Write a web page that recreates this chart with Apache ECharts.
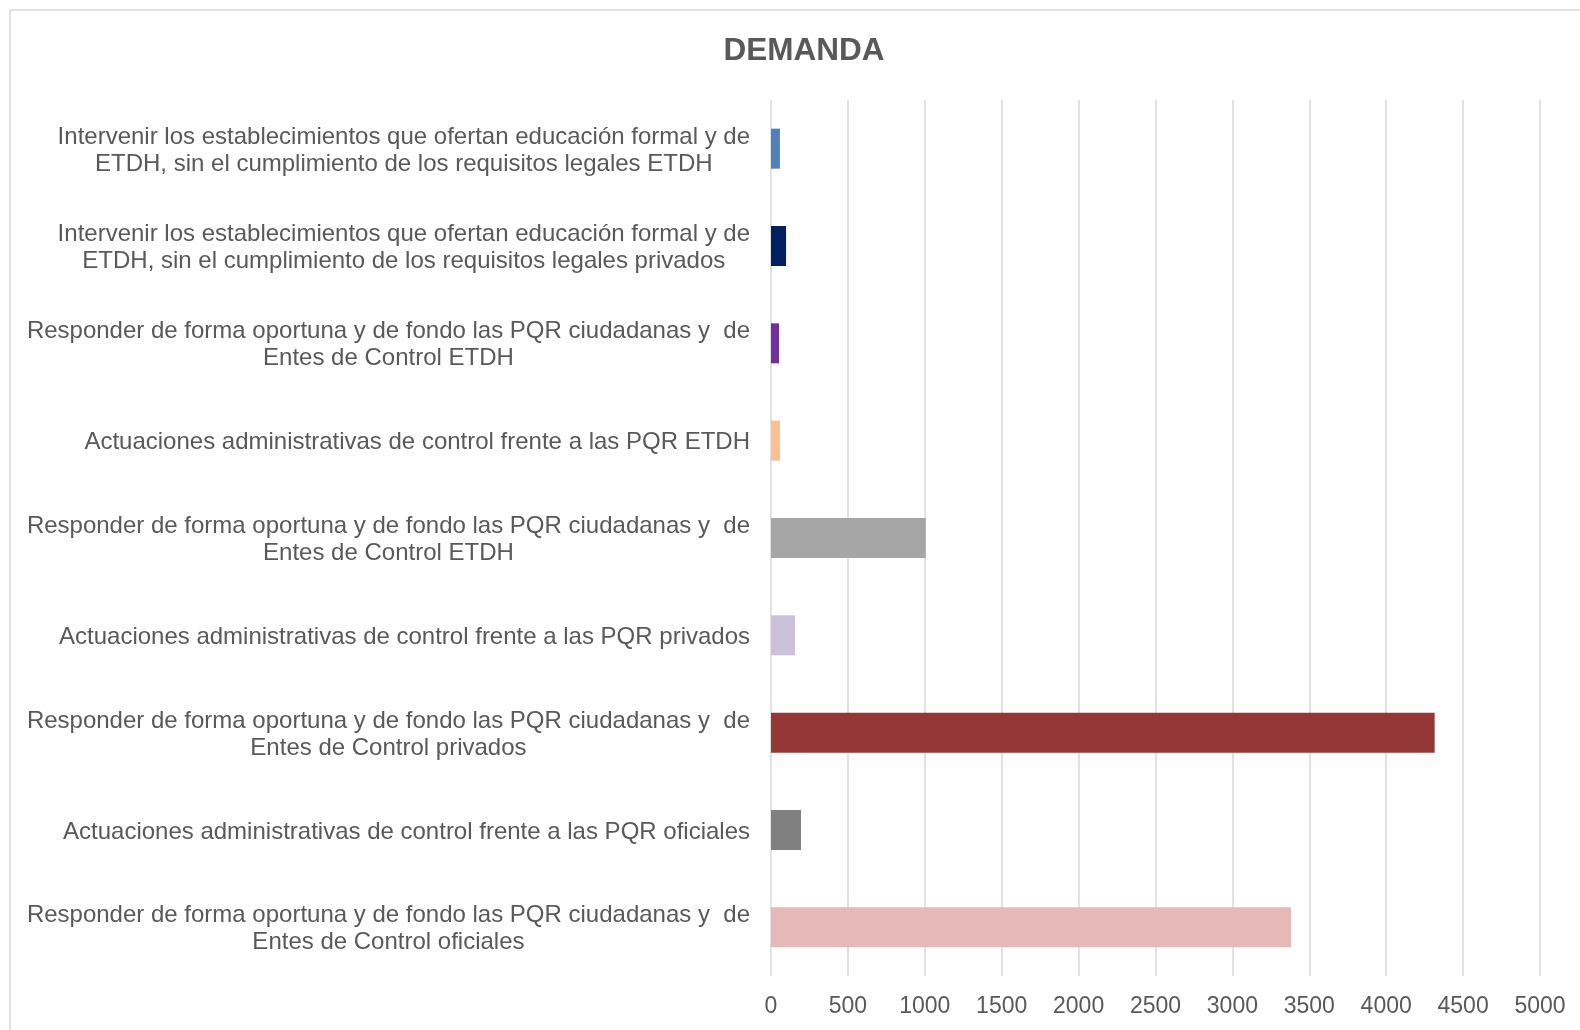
<!DOCTYPE html>
<html>
<head>
<meta charset="utf-8">
<script src="https://cdn.jsdelivr.net/npm/echarts@6/dist/echarts.min.js"></script>
<style>
  html, body { margin: 0; padding: 0; background: #fff; }
  #chart { width: 1580px; height: 1030px; }
</style>
</head>
<body>
<div id="chart"></div>
<script>
// categories, top to bottom
var categories = [
  'Intervenir los establecimientos que ofertan educación formal y de\nETDH, sin el cumplimiento de los requisitos legales ETDH',
  'Intervenir los establecimientos que ofertan educación formal y de\nETDH, sin el cumplimiento de los requisitos legales privados',
  'Responder de forma oportuna y de fondo las PQR ciudadanas y  de\nEntes de Control ETDH',
  'Actuaciones administrativas de control frente a las PQR ETDH',
  'Responder de forma oportuna y de fondo las PQR ciudadanas y  de\nEntes de Control ETDH',
  'Actuaciones administrativas de control frente a las PQR privados',
  'Responder de forma oportuna y de fondo las PQR ciudadanas y  de\nEntes de Control privados',
  'Actuaciones administrativas de control frente a las PQR oficiales',
  'Responder de forma oportuna y de fondo las PQR ciudadanas y  de\nEntes de Control oficiales'
];
var values = [58, 98, 52, 58, 1006, 156, 4315, 195, 3381];
var barColors = ['#4F81BD', '#002060', '#7030A0', '#FAC090', '#A6A6A6', '#CCC1DA', '#953735', '#808080', '#E6B9B8'];

var font = '"Liberation Sans", Arial, sans-serif';
var myChart = echarts.init(document.getElementById('chart'));
var option = {
    backgroundColor: '#fff',
    animation: false,
    title: {
        text: 'DEMANDA',
        left: 799,
        top: 30,
        textAlign: 'center',
        textStyle: {
            color: '#595959',
            fontSize: 31.5,
            fontWeight: 'bold',
            fontFamily: font
        }
    },
    // outer chart border (left and top edges visible)
    graphic: [{
        type: 'rect',
        shape: { x: 10, y: 10, width: 1600, height: 1060 },
        style: { fill: null, stroke: '#d9d9d9', lineWidth: 1.5 },
        silent: true
    }],
    grid: {
        left: 771,
        right: 40,
        top: 100,
        bottom: 54
    },
    xAxis: {
        type: 'value',
        min: 0,
        max: 5000,
        interval: 500,
        axisLine: { show: false },
        axisTick: { show: false },
        splitLine: { lineStyle: { color: '#d9d9d9', width: 1.5 } },
        axisLabel: {
            color: '#595959',
            fontSize: 23,
            fontFamily: font,
            margin: 19,
            formatter: function (v) { return String(v); }
        }
    },
    yAxis: {
        type: 'category',
        inverse: true,
        data: categories,
        axisLine: { show: false },
        axisTick: { show: false },
        axisLabel: {
            margin: 21,
            padding: [4, 0, 0, 0],
            formatter: function (v) {
                return v.split('\n').map(function (s) { return '{c|' + s + '}'; }).join('\n');
            },
            rich: {
                c: {
                    align: 'center',
                    color: '#595959',
                    fontSize: 24,
                    lineHeight: 27,
                    fontFamily: font
                }
            }
        }
    },
    series: [{
        type: 'bar',
        barWidth: 40,
        data: values.map(function (v, i) {
            return { value: v, itemStyle: { color: barColors[i] } };
        })
    }]
};
myChart.setOption(option);
</script>
</body>
</html>
